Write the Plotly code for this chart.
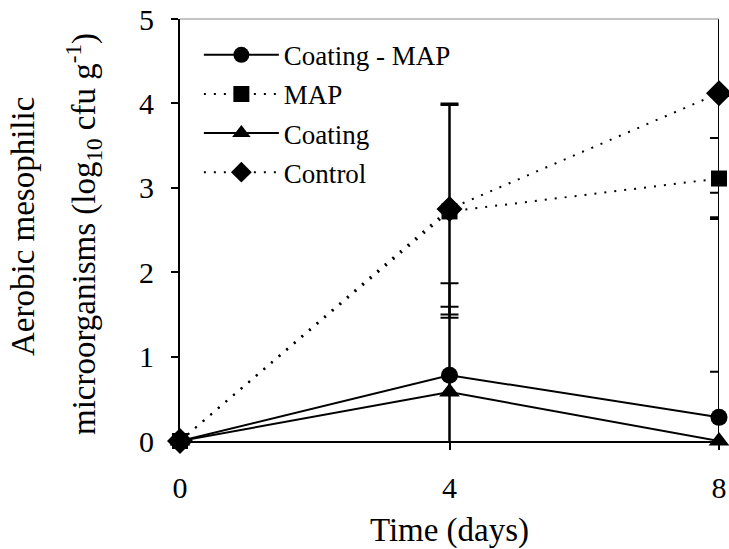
import plotly.graph_objects as go

days = [0, 4, 8]
coating_map = [0.0, 0.78, 0.28]
coating_map_err = [0.0, 1.09, 0.54]
map_vals = [0.0, 2.72, 3.11]
map_err = [0.0, 1.26, 0.48]
coating = [0.0, 0.58, 0.0]
coating_err = [0.0, 1.01, 2.65]
control = [0.0, 2.75, 4.12]
control_err = [0.0, 1.25, 1.18]

FONT = "Liberation Serif, Times New Roman, serif"

series = [
    ("Coating - MAP", coating_map, coating_map_err, "solid", "circle", 17),
    ("MAP", map_vals, map_err, "2px,8px", "square", 16),
    ("Coating", coating, coating_err, "solid", "triangle-up", 18),
    ("Control", control, control_err, "2px,8px", "diamond", 20),
]

fig = go.Figure()
for i, (name, vals, err, dash, sym, size) in enumerate(series):
    fig.add_trace(go.Scatter(
        x=days, y=vals, name=name, mode="lines+markers",
        legendgroup=f"g{i}",
        line=dict(color="black", width=2, dash=dash),
        marker=dict(symbol=sym, size=size, color="black"),
        error_y=dict(type="data", array=err, visible=True, color="black",
                     thickness=2, width=9),
        cliponaxis=False,
    ))

fig.update_layout(
    width=729, height=549,
    margin=dict(l=180, r=10, t=19, b=108),
    plot_bgcolor="white", paper_bgcolor="white",
    font=dict(family=FONT, color="black", size=28),
    showlegend=True,
    legend=dict(x=0.035, y=0.972, xanchor="left", yanchor="top",
                bgcolor="rgba(0,0,0,0)", font=dict(size=27, family=FONT),
                traceorder="grouped", tracegroupgap=1, itemwidth=75),
    xaxis=dict(range=[0, 8], tickvals=[0, 4, 8], ticks="outside", ticklen=7,
               tickwidth=2, tickcolor="black", showline=True, linecolor="black",
               linewidth=2, showgrid=False, zeroline=False, automargin=False,
               tickfont=dict(size=30, family=FONT), ticklabelstandoff=12,
               title=dict(text="Time (days)", font=dict(size=33, family=FONT),
                          standoff=17)),
    yaxis=dict(range=[0, 5], tickvals=[0, 1, 2, 3, 4, 5], ticks="outside",
               ticklen=7, tickwidth=2, tickcolor="black", showline=True,
               linecolor="black", linewidth=2, showgrid=False, zeroline=False,
               automargin=False,
               tickfont=dict(size=30, family=FONT), ticklabelstandoff=11),
)

fig.add_shape(type="line", xref="paper", yref="paper", x0=0, x1=1, y0=1, y1=1,
              line=dict(color="#888888", width=1))

fig.add_annotation(text="Aerobic mesophilic", xref="paper", yref="paper",
                   x=(23 - 180) / 539, y=(441 - 227) / 422, textangle=-90,
                   showarrow=False, xanchor="center", yanchor="middle",
                   font=dict(size=33, family=FONT))
fig.add_annotation(text="microorganisms (log<sub>10</sub> cfu g<sup>-1</sup>)",
                   xref="paper", yref="paper",
                   x=(83 - 180) / 539, y=(441 - 234) / 422, textangle=-90,
                   showarrow=False, xanchor="center", yanchor="middle",
                   font=dict(size=33, family=FONT))

fig.write_html("out.html")
